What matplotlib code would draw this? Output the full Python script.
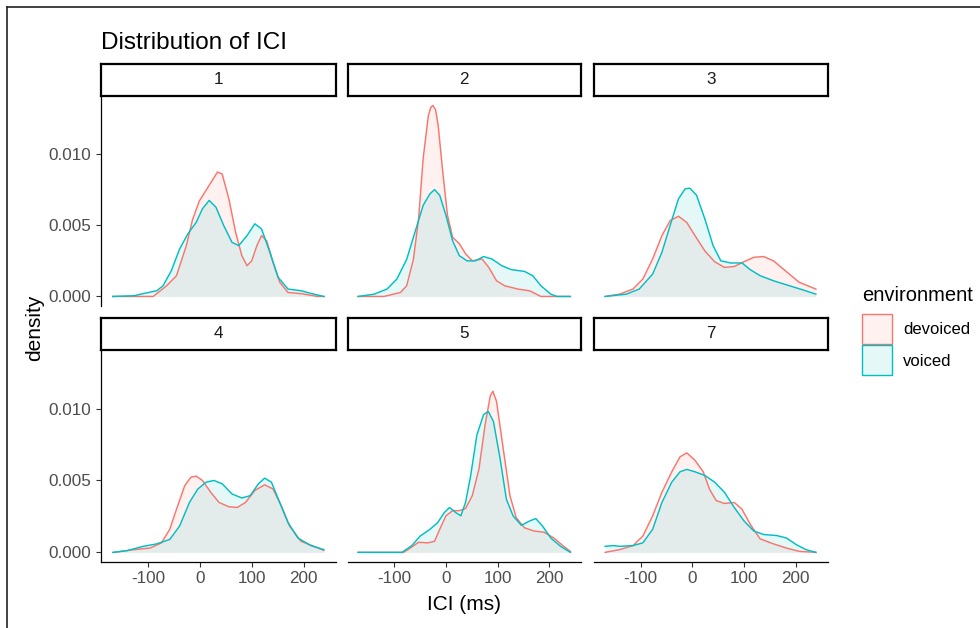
import matplotlib
matplotlib.use("Agg")
import matplotlib.pyplot as plt
from matplotlib.patches import Rectangle
from matplotlib.lines import Line2D

plt.rcParams['font.family'] = ['Liberation Sans', 'DejaVu Sans']
plt.rcParams['axes.unicode_minus'] = False

# ---------------- data ----------------
facets = ['1', '2', '3', '4', '5', '7']
environments = ['devoiced', 'voiced']
env_colors = ['#F8766D', '#00BFC4']

ici_1_devoiced = [-168, -127, -90, -64, -45, -26, -14, -1, 18, 34, 43, 56, 69, 81, 91, 100, 110, 119, 129, 141, 154, 170, 195, 227, 240]
dens_1_devoiced = [0.0, 0.0, 0.0, 0.00075, 0.00146, 0.00357, 0.0054, 0.0067, 0.0078, 0.00873, 0.0086, 0.00685, 0.0045, 0.00286, 0.00216, 0.0025, 0.00357, 0.00427, 0.0039, 0.0024, 0.0010, 0.00028, 0.0002, 0.0, 0.0]
ici_1_voiced = [-168, -127, -109, -83, -71, -55, -39, -23, -7, 5, 18, 31, 46, 62, 75, 91, 106, 119, 135, 151, 170, 195, 220, 239]
dens_1_voiced = [0.0, 0.00005, 0.0002, 0.0004, 0.00075, 0.0018, 0.00333, 0.0044, 0.0052, 0.00615, 0.00674, 0.00627, 0.00498, 0.0038, 0.00357, 0.00427, 0.0051, 0.00474, 0.0031, 0.00134, 0.00052, 0.0004, 0.00016, 0.0]

ici_2_devoiced = [-170, -120, -88, -76, -63, -53, -44, -34, -29, -25, -20, -15, -6, 3, 13, 26, 38, 51, 70, 83, 98, 114, 139, 162, 184, 215, 240]
dens_2_devoiced = [0.0, 0.0, 0.00028, 0.00075, 0.0026, 0.0054, 0.0097, 0.0127, 0.0133, 0.0134, 0.0131, 0.0120, 0.0087, 0.0057, 0.00415, 0.0037, 0.0030, 0.0025, 0.00263, 0.00204, 0.0011, 0.00075, 0.00052, 0.0004, 0.0, 0.0, 0.0]
ici_2_voiced = [-170, -139, -114, -95, -76, -60, -44, -31, -22, -12, 0, 13, 26, 41, 57, 73, 89, 108, 127, 152, 168, 184, 203, 215, 241]
dens_2_voiced = [0.0, 0.00016, 0.00052, 0.00122, 0.0026, 0.0045, 0.0064, 0.0072, 0.0075, 0.0071, 0.0057, 0.0039, 0.00286, 0.0025, 0.0025, 0.0028, 0.00263, 0.00216, 0.00188, 0.00176, 0.00146, 0.00075, 0.00016, 0.0, 0.0]

ici_3_devoiced = [-169, -141, -115, -96, -77, -59, -43, -27, -11, 5, 24, 43, 62, 81, 100, 119, 138, 157, 182, 207, 239]
dens_3_devoiced = [0.0, 0.00016, 0.00052, 0.00122, 0.00263, 0.00427, 0.00533, 0.00563, 0.0052, 0.00427, 0.0032, 0.00244, 0.00204, 0.0021, 0.00244, 0.00275, 0.0028, 0.0025, 0.00174, 0.00099, 0.00052]
ici_3_voiced = [-169, -128, -103, -77, -59, -43, -27, -14, -5, 8, 24, 40, 55, 74, 96, 112, 131, 157, 188, 213, 239]
dens_3_voiced = [0.0, 0.00016, 0.00052, 0.00157, 0.0031, 0.0050, 0.00685, 0.00756, 0.0076, 0.0071, 0.00545, 0.00357, 0.0025, 0.00235, 0.00235, 0.00188, 0.00146, 0.0011, 0.00075, 0.00047, 0.00016]

ici_4_devoiced = [-165, -127, -96, -74, -58, -45, -29, -17, -7, 5, 21, 37, 56, 72, 88, 106, 125, 141, 157, 173, 195, 220, 239]
dens_4_devoiced = [0.0, 0.00019, 0.0003, 0.00066, 0.0016, 0.0030, 0.00465, 0.00523, 0.0053, 0.0050, 0.00418, 0.00347, 0.00317, 0.00312, 0.00347, 0.0043, 0.0047, 0.00441, 0.00324, 0.00183, 0.00077, 0.00042, 0.00014]
ici_4_voiced = [-168, -140, -109, -83, -58, -39, -20, -4, 12, 27, 43, 62, 81, 97, 113, 125, 138, 154, 170, 189, 214, 239]
dens_4_voiced = [0.0, 0.00012, 0.00042, 0.00059, 0.0009, 0.00183, 0.00347, 0.0044, 0.00488, 0.0050, 0.00477, 0.00406, 0.00378, 0.00394, 0.00477, 0.00516, 0.00488, 0.00347, 0.00207, 0.0010, 0.00047, 0.00019]

ici_5_devoiced = [-170, -82, -69, -53, -35, -22, -12, 0, 13, 26, 38, 51, 64, 76, 86, 91, 98, 111, 124, 136, 152, 171, 190, 209, 228, 241]
dens_5_devoiced = [0.0, 0.0, 0.0003, 0.0007, 0.00066, 0.00077, 0.0016, 0.00254, 0.0029, 0.0029, 0.00305, 0.00394, 0.0058, 0.0089, 0.0109, 0.0112, 0.0105, 0.0072, 0.00394, 0.00242, 0.00171, 0.00148, 0.0014, 0.0010, 0.00042, 0.00007]
ici_5_voiced = [-170, -85, -66, -50, -31, -16, -3, 7, 19, 29, 38, 48, 60, 73, 82, 92, 105, 117, 130, 146, 162, 174, 187, 203, 222, 241]
dens_5_voiced = [0.0, 0.0, 0.00047, 0.00113, 0.0016, 0.00207, 0.00277, 0.00312, 0.00277, 0.00254, 0.00347, 0.00535, 0.00817, 0.00958, 0.0098, 0.0091, 0.0065, 0.0037, 0.00254, 0.00188, 0.00218, 0.00235, 0.00183, 0.0010, 0.00042, 0.0]

ici_7_devoiced = [-169, -141, -115, -96, -77, -59, -40, -24, -11, 5, 21, 33, 46, 62, 81, 96, 112, 131, 157, 182, 207, 239]
dens_7_devoiced = [0.0, 0.00019, 0.00047, 0.00113, 0.00254, 0.00418, 0.0056, 0.00664, 0.00692, 0.0064, 0.0056, 0.0044, 0.0036, 0.0034, 0.00347, 0.0030, 0.00195, 0.00094, 0.00059, 0.0003, 0.00007, 0.0]
ici_7_voiced = [-169, -153, -141, -115, -96, -77, -59, -40, -24, -11, 5, 24, 43, 62, 81, 100, 119, 138, 163, 182, 201, 220, 239]
dens_7_voiced = [0.00042, 0.00047, 0.00042, 0.00047, 0.00066, 0.0016, 0.00347, 0.00488, 0.0056, 0.00577, 0.0056, 0.00535, 0.00488, 0.00418, 0.00312, 0.00218, 0.00148, 0.00124, 0.00117, 0.0010, 0.00054, 0.00019, 0.0]

panel_data = {
    '1': [(ici_1_devoiced, dens_1_devoiced), (ici_1_voiced, dens_1_voiced)],
    '2': [(ici_2_devoiced, dens_2_devoiced), (ici_2_voiced, dens_2_voiced)],
    '3': [(ici_3_devoiced, dens_3_devoiced), (ici_3_voiced, dens_3_voiced)],
    '4': [(ici_4_devoiced, dens_4_devoiced), (ici_4_voiced, dens_4_voiced)],
    '5': [(ici_5_devoiced, dens_5_devoiced), (ici_5_voiced, dens_5_voiced)],
    '7': [(ici_7_devoiced, dens_7_devoiced), (ici_7_voiced, dens_7_voiced)],
}

x_ticks = [-100, 0, 100, 200]
y_ticks = [0.000, 0.005, 0.010]
y_tick_labels = ['0.000', '0.005', '0.010']

# ---------------- layout ----------------
W, H = 980, 628
fig = plt.figure(figsize=(W / 100, H / 100), dpi=100)

def fx(px):
    return px / W

def fy(py):
    return 1 - py / H

cols = [(101, 335.5), (347.5, 581), (594, 827.5)]
rows = [((64, 96), (96, 306)), ((318, 350), (350, 562))]

all_x = [v for pair in panel_data.values() for s in pair for v in s[0]]
all_y = [v for pair in panel_data.values() for s in pair for v in s[1]]
xpad = 0.05 * (max(all_x) - min(all_x))
ypad = 0.05 * max(all_y)
xlim = (min(all_x) - xpad, max(all_x) + xpad)
ylim = (-ypad, max(all_y) + ypad)

tick_color = '#333333'
label_color = '#4D4D4D'

for i, fac in enumerate(facets):
    r, c = divmod(i, 3)
    (st, sb), (pt, pb) = rows[r]
    l, rr = cols[c]
    ax = fig.add_axes([fx(l), fy(pb), (rr - l) / W, (pb - pt) / H])
    for (xs, ys), col in zip(panel_data[fac], env_colors):
        ax.fill_between(xs, 0, ys, color=col, alpha=0.1, linewidth=0)
        ax.plot(xs, ys, color=col, lw=1.05, solid_joinstyle='round')
    ax.set_xlim(xlim)
    ax.set_ylim(ylim)
    ax.set_facecolor('none')
    for s in ['top', 'right']:
        ax.spines[s].set_visible(False)
    ax.spines['left'].set_visible(c == 0)
    ax.spines['bottom'].set_visible(r == 1)
    for s in ['left', 'bottom']:
        ax.spines[s].set_color('black')
        ax.spines[s].set_linewidth(0.9)
    ax.set_xticks(x_ticks)
    ax.set_yticks(y_ticks)
    ax.set_yticklabels(y_tick_labels)
    ax.tick_params(axis='both', colors=tick_color, labelcolor=label_color,
                   labelsize=12.3, length=3.4, width=0.8)
    ax.tick_params(axis='y', pad=4.0, left=(c == 0), labelleft=(c == 0))
    ax.tick_params(axis='x', pad=3.0, bottom=(r == 1), labelbottom=(r == 1))

    sax = fig.add_axes([fx(l), fy(sb), (rr - l) / W, (sb - st) / H])
    sax.set_facecolor('white')
    sax.set_xticks([])
    sax.set_yticks([])
    for s in sax.spines.values():
        s.set_color('black')
        s.set_linewidth(1.6)
    sax.text(0.5, 0.5, fac, ha='center', va='center', fontsize=12.3,
             color='#1A1A1A', transform=sax.transAxes)

# titles
fig.text(fx(101), fy(49), 'Distribution of ICI', fontsize=17.5, color='black',
         ha='left', va='baseline')
fig.text(fx(35), fy(328), 'density', rotation=90, fontsize=15, color='black',
         ha='center', va='center')
fig.text(fx(464), fy(604), 'ICI (ms)', fontsize=15, color='black',
         ha='center', va='center')

# legend
fig.text(fx(862), fy(295), 'environment', fontsize=14.5, color='black',
         ha='left', va='center')
key_tops = [313.5, 344.5]
for env, col, kt in zip(environments, env_colors, key_tops):
    fig.patches.append(Rectangle((fx(862), fy(kt + 30.5)), 30 / W, 30.5 / H,
                                 transform=fig.transFigure, facecolor=col,
                                 alpha=0.1, edgecolor='none'))
    fig.patches.append(Rectangle((fx(862), fy(kt + 30.5)), 30 / W, 30.5 / H,
                                 transform=fig.transFigure, facecolor='none',
                                 edgecolor=col, linewidth=1.0))
    fig.text(fx(903), fy(kt + 16.5), env, fontsize=12, color='black',
             ha='left', va='center')

# frame of the screenshot
fig.add_artist(Line2D([fx(7), 1], [fy(7), fy(7)], transform=fig.transFigure,
                      color='#222222', lw=1.2))
fig.add_artist(Line2D([fx(7), fx(7)], [fy(7), 0], transform=fig.transFigure,
                      color='#222222', lw=1.2))

fig.savefig('out.png', dpi=100, facecolor='white')
